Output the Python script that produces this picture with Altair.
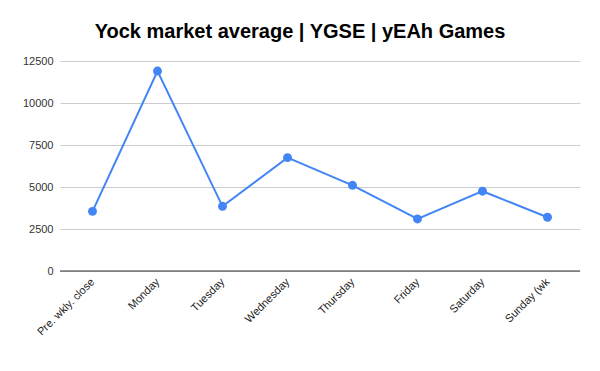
import altair as alt
import pandas as pd

days = ["Pre. wkly. close", "Monday", "Tuesday", "Wednesday", "Thursday", "Friday", "Saturday", "Sunday (wk"]
values = [3550, 11900, 3850, 6750, 5100, 3100, 4750, 3200]

df = pd.DataFrame({"day": days, "value": values, "order": list(range(len(days)))})

x = alt.X("day:N", sort=days, title=None,
          scale=alt.Scale(paddingOuter=0.5, paddingInner=0),
          axis=alt.Axis(labelAngle=-45, labelAlign="right", labelBaseline="middle",
                        labelFont="Liberation Sans", labelFontSize=11, labelColor="#222222",
                        ticks=False, domain=False, labelPadding=9, grid=False))
y = alt.Y("value:Q", title=None,
          scale=alt.Scale(domain=[0, 12500], nice=False),
          axis=alt.Axis(values=[0, 2500, 5000, 7500, 10000, 12500], format="d",
                        labelFont="Liberation Sans", labelFontSize=11, labelColor="#333333",
                        ticks=False, domain=False, gridColor="#cccccc", labelPadding=7))

base = alt.Chart(df)
zero = alt.Chart(pd.DataFrame({"v": [0]})).mark_rule(color="#333333", strokeWidth=1).encode(y="v:Q")
line = base.mark_line(color="#4285F4", strokeWidth=2).encode(x=x, y=y, order="order:Q")
pts = base.mark_circle(color="#4285F4", size=80, opacity=1).encode(x=x, y=y)

chart = alt.layer(line, zero, pts).properties(
    width=520, height=210,
    title=alt.TitleParams("Yock market average | YGSE | yEAh Games", font="Liberation Sans",
                          fontSize=20, fontWeight="bold", color="#000000", anchor="middle",
                          dx=-20, offset=13),
    autosize=alt.AutoSizeParams(type="none"),
    padding={"left": 52, "top": 53, "right": 12, "bottom": 90},
).configure_view(stroke=None)

chart.save("out.html", embed_options={"renderer": "svg", "actions": False})
